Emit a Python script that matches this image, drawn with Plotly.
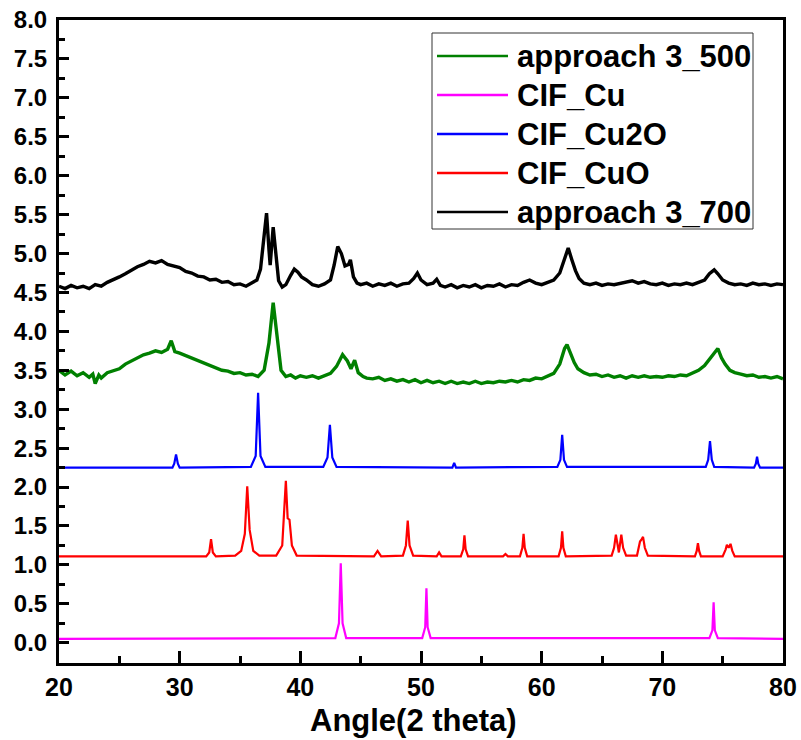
import plotly.graph_objects as go

# ---------------- data ----------------
x_700 = [20.0,20.5,21.0,21.5,22.0,22.5,23.0,23.5,24.0,24.5,25.0,25.5,26.0,26.5,27.0,27.5,28.0,28.5,29.0,29.5,
         30.0,30.5,31.0,31.5,32.0,32.5,33.0,33.5,34.0,34.5,35.0,35.5,36.0,36.4,36.7,37.0,37.2,37.4,37.5,37.75,
         38.0,38.2,38.5,38.8,39.2,39.5,39.8,40.1,40.5,41.0,41.5,42.0,42.5,42.8,43.1,43.4,43.7,44.0,44.15,44.4,
         44.7,45.0,45.5,46.0,46.5,47.0,47.5,48.0,48.5,49.0,49.4,49.7,50.0,50.5,51.0,51.3,51.6,52.0,52.5,53.0,
         53.5,54.0,54.5,55.0,55.5,56.0,56.5,57.0,57.5,58.0,58.5,59.0,59.5,60.0,60.5,61.0,61.5,61.9,62.2,62.5,
         62.8,63.1,63.5,64.0,64.5,65.0,65.5,66.0,66.5,67.0,67.5,68.0,68.5,69.0,69.5,70.0,70.5,71.0,71.5,72.0,
         72.5,73.0,73.5,73.9,74.3,74.6,75.0,75.5,76.0,76.5,77.0,77.5,78.0,78.5,79.0,79.5,80.0]
y_700 = [4.58,4.55,4.59,4.56,4.58,4.55,4.60,4.58,4.63,4.66,4.70,4.74,4.79,4.83,4.86,4.90,4.88,4.91,4.86,4.84,
         4.82,4.77,4.75,4.71,4.70,4.66,4.67,4.63,4.64,4.60,4.61,4.58,4.62,4.66,4.80,5.30,5.52,5.05,4.85,5.34,
         4.95,4.65,4.57,4.60,4.72,4.80,4.76,4.70,4.66,4.60,4.58,4.61,4.66,4.85,5.09,5.00,4.84,4.86,4.92,4.70,
         4.62,4.60,4.62,4.58,4.61,4.59,4.62,4.58,4.61,4.62,4.68,4.75,4.66,4.60,4.62,4.67,4.59,4.57,4.60,4.56,
         4.59,4.57,4.60,4.56,4.59,4.58,4.61,4.57,4.60,4.59,4.63,4.66,4.62,4.60,4.63,4.66,4.75,4.95,5.07,4.92,
         4.78,4.68,4.62,4.60,4.62,4.59,4.61,4.60,4.62,4.63,4.65,4.62,4.64,4.61,4.60,4.62,4.59,4.61,4.60,4.62,
         4.60,4.63,4.66,4.74,4.79,4.74,4.66,4.62,4.60,4.61,4.59,4.62,4.60,4.61,4.59,4.61,4.60]

x_500 = [20.0,20.5,21.0,21.5,22.0,22.5,22.8,23.0,23.3,23.5,24.0,24.5,25.0,25.5,26.0,26.5,27.0,27.5,28.0,28.5,
         29.0,29.3,29.6,30.0,30.5,31.0,31.5,32.0,32.5,33.0,33.5,34.0,34.5,35.0,35.5,36.0,36.5,37.0,37.4,37.75,
         38.1,38.4,38.8,39.2,39.6,40.0,40.5,41.0,41.5,42.0,42.5,43.0,43.5,43.9,44.2,44.5,44.8,45.2,45.5,46.0,
         46.5,47.0,47.5,48.0,48.5,49.0,49.5,50.0,50.5,51.0,51.5,52.0,52.5,53.0,53.5,54.0,54.5,55.0,55.5,56.0,
         56.5,57.0,57.5,58.0,58.5,59.0,59.5,60.0,60.5,61.0,61.5,61.9,62.1,62.4,62.7,63.0,63.5,64.0,64.5,65.0,
         65.5,66.0,66.5,67.0,67.5,68.0,68.5,69.0,69.5,70.0,70.5,71.0,71.5,72.0,72.5,73.0,73.5,74.0,74.3,74.6,
         74.9,75.2,75.6,76.0,76.5,77.0,77.5,78.0,78.5,79.0,79.5,80.0]
y_500 = [3.50,3.44,3.49,3.43,3.47,3.41,3.45,3.33,3.44,3.40,3.47,3.50,3.52,3.58,3.62,3.66,3.70,3.72,3.75,3.73,
         3.77,3.88,3.74,3.72,3.69,3.66,3.63,3.60,3.56,3.54,3.50,3.49,3.46,3.47,3.44,3.45,3.42,3.50,3.85,4.37,
         3.85,3.50,3.42,3.44,3.40,3.43,3.41,3.43,3.40,3.43,3.46,3.55,3.70,3.62,3.52,3.63,3.47,3.42,3.40,3.39,
         3.41,3.37,3.39,3.36,3.38,3.35,3.38,3.34,3.37,3.34,3.36,3.33,3.36,3.33,3.35,3.33,3.36,3.33,3.35,3.34,
         3.36,3.35,3.37,3.35,3.38,3.37,3.40,3.39,3.42,3.46,3.58,3.78,3.83,3.72,3.60,3.52,3.47,3.44,3.45,3.42,
         3.44,3.41,3.43,3.40,3.43,3.41,3.43,3.41,3.42,3.41,3.43,3.42,3.44,3.43,3.46,3.50,3.56,3.66,3.72,3.78,
         3.66,3.58,3.50,3.47,3.45,3.43,3.44,3.41,3.42,3.40,3.42,3.39]

x_cu = [20, 42.9, 43.2, 43.35, 43.5, 43.8, 50.1, 50.35, 50.45, 50.55, 50.8, 73.9, 74.15, 74.25, 74.35, 74.6, 80]
y_cu = [0.05, 0.06, 0.25, 1.02, 0.25, 0.06, 0.06, 0.20, 0.70, 0.20, 0.06, 0.06, 0.16, 0.52, 0.16, 0.06, 0.05]

x_cu2o = [20, 29.4, 29.55, 29.7, 29.85, 30.0, 35.9, 36.3, 36.5, 36.7, 37.1, 41.9, 42.25, 42.45, 42.65, 43.0,
          52.6, 52.75, 52.9, 61.3, 61.55, 61.7, 61.85, 62.1, 73.6, 73.8, 73.95, 74.1, 74.3,
          77.6, 77.75, 77.85, 77.95, 78.1, 80]
y_cu2o = [2.25, 2.25, 2.30, 2.42, 2.30, 2.25, 2.26, 2.40, 3.21, 2.40, 2.26, 2.26, 2.38, 2.80, 2.38, 2.26,
          2.25, 2.31, 2.25, 2.26, 2.35, 2.67, 2.35, 2.26, 2.26, 2.35, 2.59, 2.35, 2.26,
          2.25, 2.30, 2.39, 2.30, 2.25, 2.25]

x_cuo = [20, 32.2, 32.45, 32.6, 32.75, 33.0, 34.6, 35.1, 35.4, 35.6, 35.8, 36.1, 36.6,
         38.0, 38.5, 38.8, 38.95, 39.1, 39.3, 39.7, 46.1, 46.4, 46.7,
         48.5, 48.75, 48.9, 49.05, 49.35, 51.3, 51.5, 51.7, 53.3, 53.5, 53.6, 53.7, 53.9,
         56.8, 57.0, 57.2, 58.2, 58.4, 58.5, 58.6, 58.8, 61.4, 61.6, 61.7, 61.8, 62.0,
         65.8, 66.0, 66.15, 66.4, 66.6, 66.75, 67.0, 67.9, 68.15, 68.25, 68.4, 68.55, 68.8,
         72.7, 72.85, 72.95, 73.05, 73.2, 75.0, 75.25, 75.35, 75.5, 75.65, 75.8, 76.0, 80]
y_cuo = [1.11, 1.11, 1.16, 1.33, 1.16, 1.11, 1.12, 1.18, 1.40, 2.01, 1.45, 1.18, 1.12,
         1.12, 1.25, 2.08, 1.60, 1.58, 1.25, 1.12, 1.11, 1.18, 1.11,
         1.12, 1.25, 1.57, 1.25, 1.12, 1.11, 1.16, 1.11, 1.11, 1.20, 1.38, 1.20, 1.11,
         1.11, 1.14, 1.11, 1.11, 1.22, 1.40, 1.22, 1.11, 1.11, 1.22, 1.43, 1.22, 1.11,
         1.12, 1.22, 1.39, 1.16, 1.39, 1.22, 1.12, 1.12, 1.30, 1.32, 1.36, 1.22, 1.12,
         1.11, 1.18, 1.28, 1.18, 1.11, 1.11, 1.20, 1.26, 1.22, 1.27, 1.18, 1.11, 1.11]

series_names = ["approach 3_500", "CIF_Cu", "CIF_Cu2O", "CIF_CuO", "approach 3_700"]
series_x = [x_500, x_cu, x_cu2o, x_cuo, x_700]
series_y = [y_500, y_cu, y_cu2o, y_cuo, y_700]
series_colors = ["#008000", "#FF00FF", "#0000FF", "#FF0000", "#000000"]
series_widths = [3.4, 2.2, 2.2, 2.2, 3.4]
x_title = "Angle(2 theta)"

FONT = "Liberation Sans, Arial, sans-serif"

# plot-area geometry (px) used to place the hand-built legend box and the axis title
L, R, T, B = 59, 18, 20, 77
W, H = 801, 740
PW, PH = W - L - R, H - T - B
def px(xp):
    return (xp - L) / PW
def py(yp):
    return (H - B - yp) / PH

fig = go.Figure()
for name, xs, ys, col, w in zip(series_names, series_x, series_y, series_colors, series_widths):
    fig.add_trace(go.Scatter(x=xs, y=ys, mode="lines", name=name,
                             line=dict(color=col, width=w), showlegend=False))

# custom legend (box, line samples, labels)
shapes = [dict(type="rect", xref="paper", yref="paper",
               x0=px(432), x1=px(753), y0=py(229), y1=py(33),
               line=dict(color="#333333", width=1), fillcolor="white", layer="above")]
annotations = []
legend_rows = [56, 95, 134, 173, 212]
for name, col, yrow in zip(series_names, series_colors, legend_rows):
    shapes.append(dict(type="line", xref="paper", yref="paper",
                       x0=px(437), x1=px(508), y0=py(yrow), y1=py(yrow),
                       line=dict(color=col, width=2.5), layer="above"))
    annotations.append(dict(xref="paper", yref="paper", x=px(515), y=py(yrow),
                            xanchor="left", yanchor="middle", showarrow=False,
                            text=name,
                            font=dict(family=FONT, size=31, color="black", weight="bold")))

# x-axis title as an annotation for exact placement
annotations.append(dict(xref="paper", yref="paper", x=px(413), y=py(720),
                        xanchor="center", yanchor="middle", showarrow=False,
                        text=x_title,
                        font=dict(family=FONT, size=31, color="black", weight="bold")))

fig.update_layout(
    width=W, height=H,
    margin=dict(l=L, r=R, t=T, b=B, autoexpand=False),
    paper_bgcolor="white", plot_bgcolor="white",
    font=dict(family=FONT, color="black"),
    showlegend=False,
    shapes=shapes, annotations=annotations,
)
fig.update_xaxes(
    range=[20, 80], tick0=20, dtick=10, ticks="inside", ticklen=12, tickwidth=3,
    tickcolor="black", showline=True, linecolor="black", linewidth=3, mirror=True,
    showgrid=False, zeroline=False, automargin=False,
    tickfont=dict(family=FONT, size=25, color="black", weight="bold"),
    minor=dict(dtick=5, ticks="inside", ticklen=7, tickwidth=3, tickcolor="black", showgrid=False),
)
fig.update_yaxes(
    range=[-0.26, 8.0], tick0=0, dtick=0.5, tickformat=".1f", ticks="inside", ticklen=10, tickwidth=3,
    tickcolor="black", showline=True, linecolor="black", linewidth=3, mirror=True,
    showgrid=False, zeroline=False, ticklabelstandoff=4, automargin=False,
    tickfont=dict(family=FONT, size=24, color="black", weight="bold"),
    minor=dict(dtick=0.25, ticks="inside", ticklen=6, tickwidth=3, tickcolor="black", showgrid=False),
)

fig.write_html("out.html")
